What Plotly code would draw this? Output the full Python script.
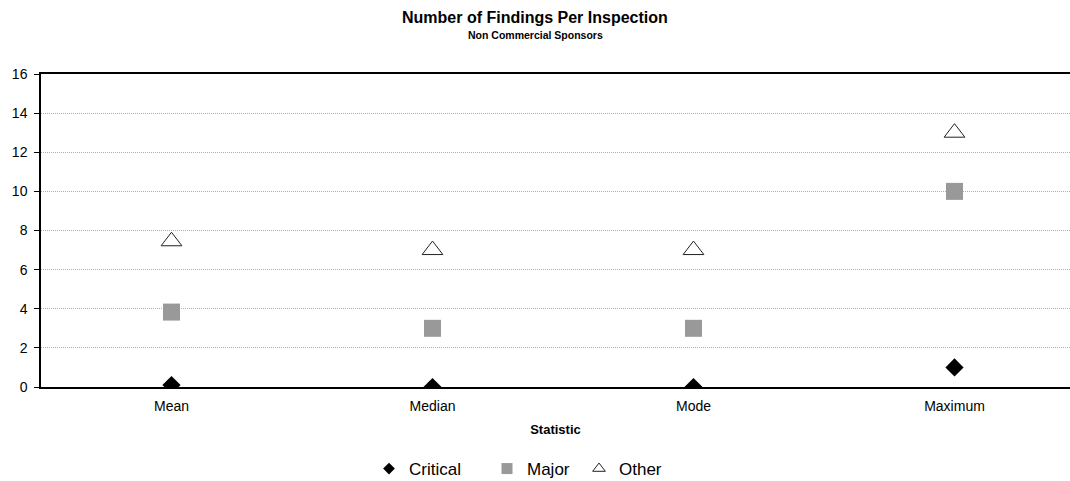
import plotly.graph_objects as go

categories = ["Mean", "Median", "Mode", "Maximum"]
critical = [0.1, 0, 0, 1]
major = [3.83, 3, 3, 10]
other = [7.45, 7, 7, 13]
y_ticks = [0, 2, 4, 6, 8, 10, 12, 14, 16]

font = "Liberation Sans, Arial, sans-serif"
W, H = 1070, 481
L, R, T, B = 41, 0, 74, 94

styles = {
    "Critical": dict(symbol="diamond", size=14, color="black", line=dict(width=0)),
    "Major": dict(symbol="square", size=17, color="#999999", line=dict(width=0)),
    "Other": dict(symbol="triangle-up-open", size=18, color="#222222", line=dict(width=1)),
}
legend_styles = {
    "Critical": dict(symbol="diamond", size=9, color="black", line=dict(width=0)),
    "Major": dict(symbol="square", size=11, color="#999999", line=dict(width=0)),
    "Other": dict(symbol="triangle-up-open", size=11, color="#222222", line=dict(width=1)),
}
legend_text_x = {"Critical": 413, "Major": 531, "Other": 623}
legend_ids = {"Critical": "legend", "Major": "legend2", "Other": "legend3"}

fig = go.Figure()
for name, vals in [("Critical", critical), ("Major", major), ("Other", other)]:
    fig.add_trace(go.Scatter(x=categories, y=vals, mode="markers", name=name,
                             marker=styles[name], showlegend=False))
    fig.add_trace(go.Scatter(x=[None], y=[None], mode="markers", name=name,
                             marker=legend_styles[name], showlegend=True,
                             legend=legend_ids[name]))

leg_common = dict(xref="container", yref="container", xanchor="left", yanchor="middle",
                  y=1 - 469 / H, font=dict(size=17, family=font), bgcolor="rgba(0,0,0,0)",
                  itemsizing="trace")
fig.update_layout(
    width=W, height=H,
    margin=dict(l=L, r=R, t=T, b=B, autoexpand=False),
    paper_bgcolor="white", plot_bgcolor="white",
    font=dict(family=font, size=13, color="black"),
    showlegend=True,
    legend=dict(x=(legend_text_x["Critical"] - 44) / W, **leg_common),
    legend2=dict(x=(legend_text_x["Major"] - 44) / W, **leg_common),
    legend3=dict(x=(legend_text_x["Other"] - 44) / W, **leg_common),
)
cx = (535 - L) / (W - L - R)
ph = H - T - B
fig.add_annotation(text="<b>Number of Findings Per Inspection</b>", xref="paper", yref="paper",
                   x=cx, y=1 + (T - 18) / ph, showarrow=False,
                   font=dict(size=16, family=font), yanchor="middle")
fig.add_annotation(text="<b>Non Commercial Sponsors</b>", xref="paper", yref="paper",
                   x=cx, y=1 + (T - 35) / ph, showarrow=False,
                   font=dict(size=10.5, family=font), yanchor="middle")

fig.update_xaxes(type="category", range=[-0.5, -0.5 + (W - L - R) / 261], automargin=False,
                 showline=True, linecolor="black", linewidth=2, mirror=True,
                 showgrid=False, ticks="", tickfont=dict(size=14), ticklabelstandoff=5,
                 title=dict(text="<b>Statistic</b>", font=dict(size=13), standoff=12))
fig.update_yaxes(range=[0, 16], tickvals=y_ticks, automargin=False,
                 showline=True, linecolor="black", linewidth=1.5,
                 showgrid=True, gridcolor="#b0b0b0", griddash="1px,1px", gridwidth=1,
                 ticks="outside", ticklen=5, tickcolor="black", tickfont=dict(size=14),
                 ticklabelstandoff=4, zeroline=False)

fig.write_html("out.html", config={"displayModeBar": False},
               post_script="document.body.style.margin='0';document.body.style.overflow='hidden';")
